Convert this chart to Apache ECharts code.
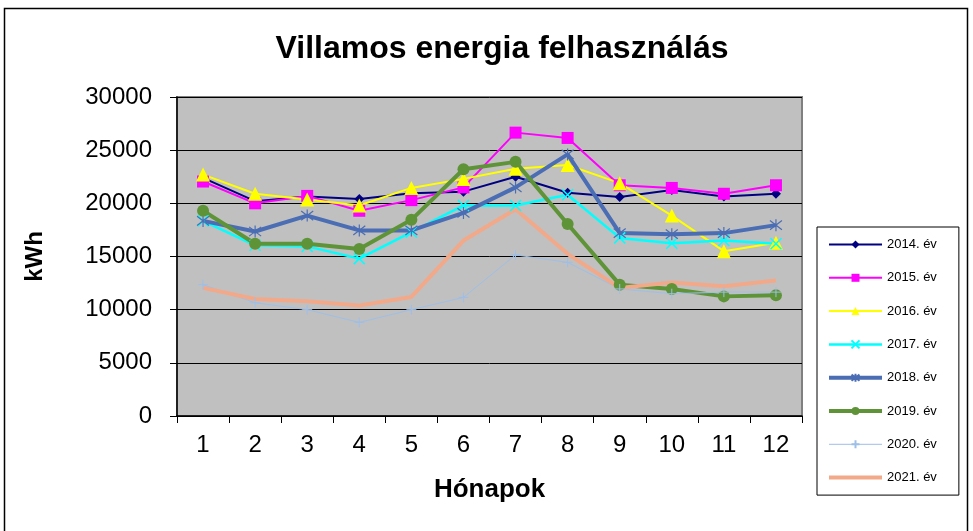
<!DOCTYPE html>
<html>
<head>
<meta charset="utf-8">
<script src="https://cdn.jsdelivr.net/npm/echarts@6/dist/echarts.min.js"></script>
<style>
  html, body { margin: 0; padding: 0; background: #fff; }
  #chart { width: 973px; height: 531px; }
</style>
</head>
<body>
<div id="chart"></div>
<script>
// * Months on the x axis
const months = ["1", "2", "3", "4", "5", "6", "7", "8", "9", "10", "11", "12"];
// * Yearly consumption, kWh per month
const y2014 = [22400, 20200, 20650, 20400, 20950, 21100, 22500, 21000, 20600, 21250, 20650, 20900];
const y2015 = [22050, 20000, 20700, 19300, 20300, 21500, 26650, 26150, 21700, 21450, 20900, 21700];
const y2016 = [22700, 20900, 20350, 19800, 21450, 22300, 23250, 23600, 21900, 18850, 15500, 16300];
const y2017 = [18350, 16050, 15950, 14800, 17300, 19800, 19800, 20800, 16750, 16250, 16500, 16200];
const y2018 = [18350, 17350, 18850, 17450, 17450, 19100, 21500, 24600, 17200, 17100, 17200, 17950];
const y2019 = [19300, 16200, 16200, 15700, 18450, 23200, 23900, 18050, 12350, 11950, 11250, 11350];
const y2020 = [12350, 10650, 10000, 8800, 10000, 11150, 15150, 14450, 11950, 11500, 11650, 11650];
const y2021 = [12050, 11000, 10800, 10400, 11200, 16500, 19450, 15250, 12050, 12550, 12200, 12750];
// * Axis ticks
const yMin = 0;
const yMax = 30000;
const yStep = 5000;

const font = "Liberation Sans, Arial, sans-serif";

// ? Excel-like marker shapes drawn as stroked paths
const crossPath = "path://M0,0L10,10M10,0L0,10";
const starPath = "path://M0,0L10,10M10,0L0,10M5,-1.5L5,11.5";
const plusPath = "path://M5,0L5,10M0,5L10,5";

function makeSeries(name, data, color, width, symbol, size, stroke) {
  const hidden = symbol === "none";
  return {
    name: name,
    type: "line",
    data: data,
    symbol: hidden ? "circle" : symbol,
    symbolSize: size,
    showSymbol: !hidden,
    lineStyle: { color: color, width: width },
    itemStyle: {
      color: stroke || hidden ? "transparent" : color,
      borderColor: hidden ? "transparent" : color,
      borderWidth: stroke ? stroke : 0,
    },
    emphasis: { disabled: true },
    animation: false,
  };
}

// * Legend lines keep the series widths
const legendItems = [
  ["2014. év", 2], ["2015. év", 2], ["2016. év", 2], ["2017. év", 2.5],
  ["2018. év", 4], ["2019. év", 4], ["2020. év", 1], ["2021. év", 4],
].map(([name, w]) => ({ name: name, lineStyle: { width: w } }));

const myChart = echarts.init(document.getElementById("chart"));
const option = {
  backgroundColor: "#fff",
  graphic: [
    {
      type: "rect",
      shape: { x: 4.5, y: 8.5, width: 963, height: 530 },
      style: { fill: "none", stroke: "#000", lineWidth: 1.5 },
      silent: true,
    },
  ],
  title: {
    text: "Villamos energia felhasználás",
    left: 497,
    textAlign: "center",
    top: 28,
    textStyle: { fontFamily: font, fontSize: 32, fontWeight: "bold", color: "#000" },
  },
  legend: {
    orient: "vertical",
    left: 817,
    top: 227,
    padding: [11, 22, 11, 10],
    itemWidth: 53,
    itemHeight: 10,
    itemGap: 20.3,
    borderColor: "#000",
    borderWidth: 1,
    data: legendItems,
    textStyle: { fontFamily: font, fontSize: 13, color: "#000" },
  },
  grid: {
    left: 177,
    top: 97,
    width: 625,
    height: 319,
    show: true,
    backgroundColor: "#C0C0C0",
    borderColor: "#808080",
    borderWidth: 2,
  },
  xAxis: {
    type: "category",
    data: months,
    boundaryGap: true,
    name: "Hónapok",
    nameLocation: "middle",
    nameGap: 61,
    nameTextStyle: { fontFamily: font, fontSize: 26, fontWeight: "bold", color: "#000" },
    axisLine: { lineStyle: { color: "#000", width: 1.5 } },
    axisTick: { show: true, length: 7, lineStyle: { color: "#000" } },
    axisLabel: { fontFamily: font, fontSize: 24, color: "#000", margin: 17 },
  },
  yAxis: {
    type: "value",
    min: yMin,
    max: yMax,
    interval: yStep,
    name: "kWh",
    nameLocation: "middle",
    nameRotate: 90,
    nameGap: 130,
    nameTextStyle: { fontFamily: font, fontSize: 24, fontWeight: "bold", color: "#000" },
    axisLine: { show: true, lineStyle: { color: "#000", width: 1.5 } },
    axisTick: { show: true, length: 7, lineStyle: { color: "#000" } },
    axisLabel: {
      fontFamily: font,
      fontSize: 24,
      color: "#000",
      margin: 25,
      formatter: (v) => String(v),
    },
    splitLine: { lineStyle: { color: "#000", width: 1 } },
  },
  series: [
    makeSeries("2014. év", y2014, "#000080", 2, "diamond", 10),
    makeSeries("2015. év", y2015, "#FF00FF", 2, "rect", 12),
    makeSeries("2016. év", y2016, "#FFFF00", 2, "triangle", 14),
    makeSeries("2017. év", y2017, "#00FFFF", 2.5, crossPath, 11, 1.5),
    makeSeries("2018. év", y2018, "#4A6DB4", 4, starPath, 12, 1.2),
    makeSeries("2019. év", y2019, "#5F9338", 4, "circle", 12),
    makeSeries("2020. év", y2020, "#9DBFE8", 1, plusPath, 10, 1),
    makeSeries("2021. év", y2021, "#F2A98A", 4, "none", 0),
  ],
};

myChart.setOption(option);
</script>
</body>
</html>
